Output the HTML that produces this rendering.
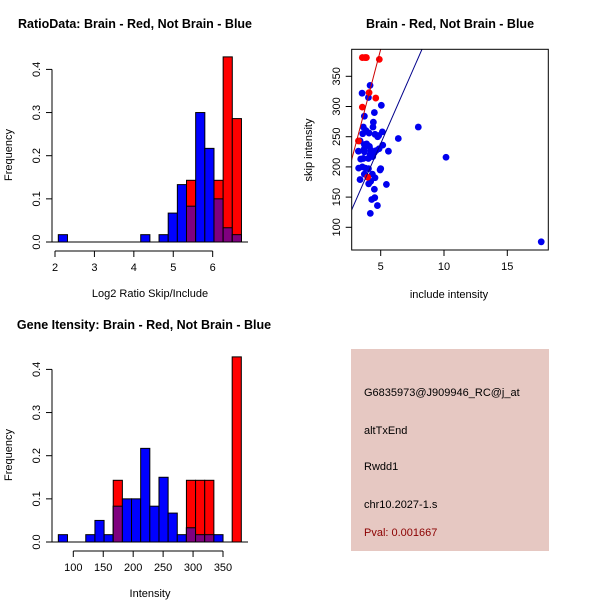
<!DOCTYPE html>
<html><head><meta charset="utf-8"><style>
body{margin:0;background:#fff;}
svg{display:block;font-family:"Liberation Sans",sans-serif;}
</style></head><body>
<svg id="chart" width="600" height="600" xmlns="http://www.w3.org/2000/svg">
<rect width="600" height="600" fill="#fff"/>
<text x="135" y="28" text-anchor="middle" font-size="12.5" font-weight="bold">RatioData: Brain - Red, Not Brain - Blue</text>
<text x="450" y="28" text-anchor="middle" font-size="12.5" font-weight="bold">Brain - Red, Not Brain - Blue</text>
<text x="144" y="329" text-anchor="middle" font-size="12.5" font-weight="bold">Gene Itensity: Brain - Red, Not Brain - Blue</text>
<g id="h1"></g>
<g id="h2"></g>
<g id="sc"></g>
<g>
<rect x="351" y="349" width="198" height="202" fill="#e6c8c2"/>
<text x="364" y="396" font-size="11">G6835973@J909946_RC@j_at</text>
<text x="364" y="434" font-size="11">altTxEnd</text>
<text x="364" y="470" font-size="11">Rwdd1</text>
<text x="364" y="508" font-size="11">chr10.2027-1.s</text>
<text x="364" y="536" font-size="11" fill="#8b0000">Pval: 0.001667</text>
</g>
</svg>
<script>
const ratioBlue=[0.017,0,0,0,0,0,0,0,0,0.017,0,0.017,0.067,0.133,0.083,0.3,0.217,0.1,0.033,0.017];
const ratioRed=[0,0,0,0,0,0,0,0,0,0,0,0,0,0,0.143,0,0,0.143,0.429,0.286];
const ratioStart=2.084, ratioWidth=0.2323;
const ratioXTicks=[2,3,4,5,6];
const intBlue=[0.017,0,0,0.017,0.05,0.017,0.083,0.1,0.1,0.217,0.083,0.15,0.067,0.017,0.033,0.017,0.017,0.017,0,0];
const intRed=[0,0,0,0,0,0,0.143,0,0,0,0,0,0,0,0.143,0.143,0.143,0,0,0.429];
const intStart=75, intWidth=15.28;
const intXTicks=[100,150,200,250,300,350];
const freqTicks=[0,0.1,0.2,0.3,0.4];
const blueX=[3.53,4.16,4.03,3.71,4.50,5.05,4.42,3.63,3.84,3.58,4.08,4.39,4.55,4.76,4.84,5.13,3.37,3.24,3.71,3.68,3.71,3.42,3.63,3.26,3.55,3.79,3.37,3.71,4.03,4.34,4.05,4.21,4.55,4.50,4.29,4.53,4.74,4.18,4.16,4.29,4.47,4.63,4.87,5.16,5.61,5.00,4.95,5.45,6.39,7.97,10.16,17.68,4.21,4.37,4.03,3.89,4.11];
const blueY=[322,335,315,284,290,302,274,266,260,255,256,266,254,250,252,258,243,226,237,229,225,213,214,198,200,198,179,188,197,188,172,176,182,163,146,149,136,123,220,223,223,227,230,236,226,197,195,171,247,266,216,76,228,217,214,238,234];
const redX=[3.55,3.76,3.87,4.89,4.08,3.55,4.61,3.24,3.97];
const redY=[381,381,381,378,323,299,314,243,183];
const blueLine=[[2.7,128.6],[8.26,394.7]];
const redLine=[[2.7,211.4],[5.0,394.7]];
const scXTicks=[5,10,15];
const scYTicks=[100,150,200,250,300,350];
const NS="http://www.w3.org/2000/svg";
function mk(p,tag,a){const e=document.createElementNS(NS,tag);for(const k in a)e.setAttribute(k,a[k]);p.appendChild(e);return e;}

function hist(g,oy,blue,red,start,width,xticks,xToPx,xlabel){
  const y0=oy+242, sy=v=>y0-v*431.5;
  const x=v=>xToPx(v);
  for(let i=0;i<blue.length;i++){
    const a=x(start+i*width), b=x(start+(i+1)*width);
    const bv=blue[i], rv=red[i];
    if(bv>0){const r=mk(g,'rect',{x:a,y:sy(bv),width:b-a,height:y0-sy(bv),fill:'#0000ff',stroke:'#000','stroke-width':1});
      
      }
    if(rv>0){const r=mk(g,'rect',{x:a,y:sy(rv),width:b-a,height:y0-sy(rv),fill:'#ff0000',stroke:'#000','stroke-width':1});
      
      }
    if(bv>0&&rv>0){const m=Math.min(bv,rv);const r=mk(g,'rect',{x:a,y:sy(m),width:b-a,height:y0-sy(m),fill:'#7f007f',stroke:'#000','stroke-width':1});
      
      }
  }
  mk(g,'line',{x1:52,x2:248,y1:y0,y2:y0,stroke:'#000'});
  // y axis
  mk(g,'line',{x1:52,x2:52,y1:sy(0),y2:sy(0.4),stroke:'#000'});
  freqTicks.forEach(t=>{mk(g,'line',{x1:46,x2:52,y1:sy(t),y2:sy(t),stroke:'#000'});
    const tx=mk(g,'text',{x:0,y:0,'font-size':11,'text-anchor':'middle',transform:`translate(40,${sy(t)}) rotate(-90)`});tx.textContent=String(t===0?'0.0':t);
    
    });
  const yl=mk(g,'text',{'font-size':11,'text-anchor':'middle',transform:`translate(12,${oy+155}) rotate(-90)`});yl.textContent='Frequency';
  
  
  // x axis
  const ax=oy+251;
  mk(g,'line',{x1:x(xticks[0]),x2:x(xticks[xticks.length-1]),y1:ax,y2:ax,stroke:'#000'});
  xticks.forEach(t=>{mk(g,'line',{x1:x(t),x2:x(t),y1:ax,y2:ax+6,stroke:'#000'});
    const tx=mk(g,'text',{x:x(t),y:ax+20,'font-size':11,'text-anchor':'middle'});tx.textContent=t;
    
    });
  const xl=mk(g,'text',{x:150,y:oy+297,'font-size':11,'text-anchor':'middle'});xl.textContent=xlabel;
  
  
}
hist(document.getElementById('h1'),0,ratioBlue,ratioRed,ratioStart,ratioWidth,ratioXTicks,v=>55+(v-2)*39.42,'Log2 Ratio Skip/Include');
hist(document.getElementById('h2'),300,intBlue,intRed,intStart,intWidth,intXTicks,v=>73.3+(v-100)*0.5988,'Intensity');

// scatter
(function(){
  const g=document.getElementById('sc');
  const L=351.7,R=548.3,T=49.3,B=250;
  const sx=v=>317.4+v*12.66, sy=v=>227.3-(v-100)*0.604;
  const defs=mk(g,'clipPath',{id:'clip'});mk(defs,'rect',{x:L,y:T,width:R-L,height:B-T});
  const cg=mk(g,'g',{'clip-path':'url(#clip)'});
  blueX.forEach((v,i)=>{const c=mk(cg,'circle',{cx:sx(v),cy:sy(blueY[i]),r:3.4,fill:'#0000ee'});
    
    });
  redX.forEach((v,i)=>{const c=mk(cg,'circle',{cx:sx(v),cy:sy(redY[i]),r:3.4,fill:'#ff0000'});
    
    });
  function line(pts,col,name){const l=mk(cg,'line',{x1:sx(pts[0][0]),y1:sy(pts[0][1]),x2:sx(pts[1][0]),y2:sy(pts[1][1]),stroke:col,'stroke-width':1});
    
    }
  line(blueLine,'#00008b','blue-fit-line');
  line(redLine,'#cc0000','red-fit-line');
  mk(g,'rect',{x:L,y:T,width:R-L,height:B-T,fill:'none',stroke:'#000'});
  scXTicks.forEach(t=>{mk(g,'line',{x1:sx(t),x2:sx(t),y1:B,y2:B+6,stroke:'#000'});
    const tx=mk(g,'text',{x:sx(t),y:B+20,'font-size':11,'text-anchor':'middle'});tx.textContent=t;
    
    });
  scYTicks.forEach(t=>{mk(g,'line',{x1:L-6,x2:L,y1:sy(t),y2:sy(t),stroke:'#000'});
    const tx=mk(g,'text',{'font-size':11,'text-anchor':'middle',transform:`translate(340,${sy(t)}) rotate(-90)`});tx.textContent=t;
    
    });
  const xl=mk(g,'text',{x:449,y:298,'font-size':11,'text-anchor':'middle'});xl.textContent='include intensity';
  
  
  const yl=mk(g,'text',{'font-size':11,'text-anchor':'middle',transform:'translate(312,150) rotate(-90)'});yl.textContent='skip intensity';
  
  
})();
</script>
</body></html>
